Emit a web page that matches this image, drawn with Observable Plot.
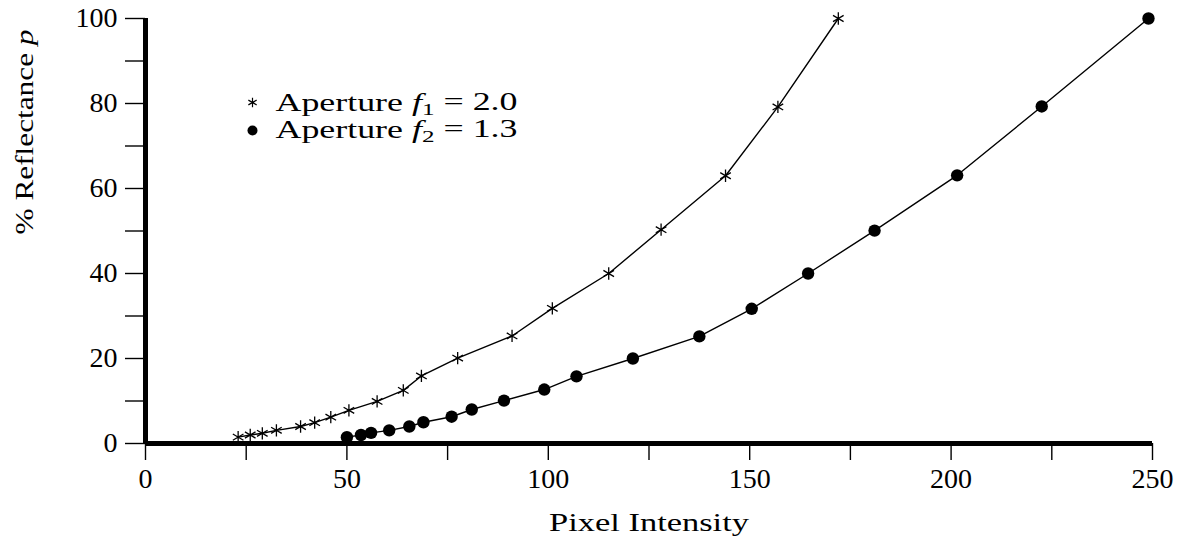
<!DOCTYPE html>
<html>
<head>
<meta charset="utf-8">
<script src="https://cdn.jsdelivr.net/npm/d3@7"></script>
<script src="https://cdn.jsdelivr.net/npm/@observablehq/plot@0.6"></script>
<style>
  html, body { margin: 0; padding: 0; background: #fff; }
  #chart { width: 1185px; height: 543px; }
</style>
</head>
<body>
<div id="chart"></div>
<script>
// Aperture f1 = 2.0 (asterisks)
const intensityF1 = [23, 26, 29, 32.5, 38.5, 42, 46, 50.5, 57.5, 64, 68.5, 77.5, 91, 101, 115, 128, 144, 157, 172];
const reflectanceF1 = [1.5, 2.0, 2.4, 3.1, 4.0, 4.9, 6.2, 7.8, 9.9, 12.5, 15.9, 20.1, 25.3, 31.8, 40.0, 50.3, 63.0, 79.2, 100];
// Aperture f2 = 1.3 (filled circles)
const intensityF2 = [50, 53.5, 56, 60.5, 65.5, 69, 76, 81, 89, 99, 107, 121, 137.5, 150.5, 164.5, 181, 201.5, 222.5, 249];
const reflectanceF2 = [1.5, 2.0, 2.5, 3.1, 4.0, 5.0, 6.3, 8.0, 10.1, 12.7, 15.8, 20.0, 25.2, 31.7, 40.0, 50.1, 63.1, 79.3, 100];

const xTicks = [0, 25, 50, 75, 100, 125, 150, 175, 200, 225, 250];
const xTickLabels = ["0", "", "50", "", "100", "", "150", "", "200", "", "250"];
const yTicks = [0, 10, 20, 30, 40, 50, 60, 70, 80, 90, 100];
const yTickLabels = ["0", "", "20", "", "40", "", "60", "", "80", "", "100"];

const xTitle = "Pixel Intensity";
const yTitle = "% Reflectance p";
const legendLabels = ["Aperture f1 = 2.0", "Aperture f2 = 1.3"];

const f1 = intensityF1.map((x, i) => ({x, y: reflectanceF1[i]}));
const f2 = intensityF2.map((x, i) => ({x, y: reflectanceF2[i]}));

const font = "'Liberation Serif', 'DejaVu Serif', serif";

const chart = Plot.plot({
  width: 1185,
  height: 543,
  marginLeft: 145,
  marginRight: 33,
  marginTop: 18,
  marginBottom: 100,
  style: {background: "#fff", color: "#000", fontFamily: font, fontSize: "28px"},
  x: {domain: [0, 250]},
  y: {domain: [0, 100]},
  marks: [
    Plot.axisX({ticks: xTicks, tickFormat: (d) => xTickLabels[xTicks.indexOf(d)], tickSize: 17, tickPadding: 8, strokeWidth: 1.4, fontSize: 28, label: null}),
    Plot.axisY({ticks: yTicks, tickFormat: (d) => yTickLabels[yTicks.indexOf(d)], tickSize: 20, tickPadding: 8, strokeWidth: 1.4, fontSize: 28, label: null}),
    Plot.ruleY([0], {strokeWidth: 5}),
    Plot.ruleX([0], {strokeWidth: 5}),
    Plot.line(f1, {x: "x", y: "y", stroke: "#000", strokeWidth: 1.4}),
    Plot.dot(f1, {x: "x", y: "y", symbol: "asterisk", r: 5.8, stroke: "#000", strokeWidth: 1.3}),
    Plot.line(f2, {x: "x", y: "y", stroke: "#000", strokeWidth: 1.4}),
    Plot.dot(f2, {x: "x", y: "y", symbol: "circle", r: 6.2, fill: "#000", stroke: "none"}),
    // axis titles
    Plot.text([xTitle], {frameAnchor: "bottom", dy: 87, lineAnchor: "bottom", text: d => d, fontSize: 25, fill: "#000"}),
    Plot.text([yTitle], {frameAnchor: "left", dx: -113, dy: 3.5, rotate: -90, lineAnchor: "bottom", text: d => d, fontSize: 25, fill: "#000"}),
    // legend
    Plot.dot([legendLabels[0]], {frameAnchor: "top-left", dx: 107, dy: 84, symbol: "asterisk", r: 4.5, stroke: "#000", strokeWidth: 1.2}),
    Plot.dot([legendLabels[1]], {frameAnchor: "top-left", dx: 107, dy: 112, symbol: "circle", r: 5, fill: "#000", stroke: "none"}),
    Plot.text([legendLabels[0]], {frameAnchor: "top-left", dx: 130, dy: 92, text: d => d, textAnchor: "start", lineAnchor: "bottom", fontSize: 25, fill: "#000"}),
    Plot.text([legendLabels[1]], {frameAnchor: "top-left", dx: 130, dy: 119, text: d => d, textAnchor: "start", lineAnchor: "bottom", fontSize: 25, fill: "#000"})
  ]
});
document.getElementById("chart").appendChild(chart);

// typographic touches: italic symbols, subscripts, and stretch to the reference's wide serif
function stretch(el, len) {
  el.setAttribute("textLength", len);
  el.setAttribute("lengthAdjust", "spacingAndGlyphs");
}
const allText = Array.from(chart.querySelectorAll("text"));
for (const t of allText) {
  const s = t.textContent;
  if (s === xTitle) {
    stretch(t, 200);
  } else if (s === yTitle) {
    const m = s.match(/^(.*) (\S)$/);
    t.innerHTML = `${m[1]} <tspan font-style="italic">${m[2]}</tspan>`;
    stretch(t, 205);
  } else if (legendLabels.includes(s)) {
    const m = s.match(/^(.*) f(\d) (.*)$/);
    t.innerHTML = `${m[1]} <tspan font-style="italic">f</tspan><tspan font-size="70%" dy="0.28em">${m[2]}</tspan><tspan dy="-0.2em"> ${m[3]}</tspan>`;
    stretch(t, 242);
  }
}
</script>
</body>
</html>
